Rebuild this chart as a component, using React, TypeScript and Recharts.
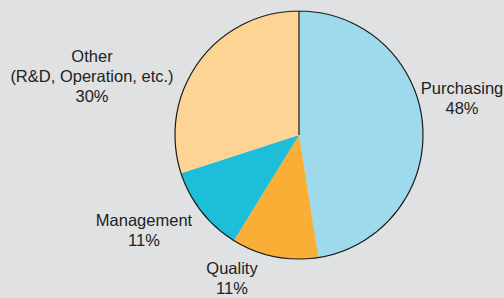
import React from "react";
import { PieChart, Pie, Cell } from "recharts";

const categories = ["Purchasing", "Quality", "Management", "Other"];
const labelLines = [["Purchasing"], ["Quality"], ["Management"], ["Other", "(R&D, Operation, etc.)"]];
const values = [47.5, 11.3, 11.2, 30.0];
const pctLabels = ["48%", "11%", "11%", "30%"];
const colors = ["#9fd9ec", "#f9ae35", "#1ebdd9", "#fdd493"];

const data = categories.map((name, i) => ({ name, value: values[i], pct: pctLabels[i], lines: labelLines[i] }));

// label placement offsets relative to pie centre (styling)
const labelOffsets = [
  { dx: 163, dy: -41 },
  { dx: -67, dy: 139 },
  { dx: -155, dy: 91 },
  { dx: -207, dy: -73 },
];

const renderLabel = (props: any) => {
  const { cx, cy, index } = props;
  const d = data[index];
  const off = labelOffsets[index];
  const x = cx + off.dx;
  const y0 = cy + off.dy;
  const lines = [...d.lines, d.pct];
  return (
    <text
      x={x}
      y={y0}
      textAnchor="middle"
      fill="#222"
      fontFamily="'Liberation Sans', Arial, sans-serif"
      fontSize={16.5}
    >
      {lines.map((l, i) => (
        <tspan key={i} x={x} y={y0 + i * 20}>
          {l}
        </tspan>
      ))}
    </text>
  );
};

export default function App() {
  return (
    <div style={{ position: "fixed", left: 0, top: 0, width: 504, height: 298, background: "#e0e1e3" }}>
      <PieChart width={504} height={298} margin={{ top: 0, right: 0, bottom: 0, left: 0 }}>
        <Pie
          data={data}
          dataKey="value"
          nameKey="name"
          cx={299}
          cy={135}
          outerRadius={124}
          startAngle={90}
          endAngle={-270}
          stroke="none"
          label={renderLabel}
          labelLine={false}
          isAnimationActive={false}
        >
          {data.map((d, i) => (
            <Cell key={d.name} fill={colors[i]} />
          ))}
        </Pie>
        <Pie
          data={[{ value: 1 }]}
          dataKey="value"
          cx={299}
          cy={135}
          outerRadius={124}
          startAngle={90}
          endAngle={-270}
          fill="none"
          stroke="#1a1a1a"
          strokeWidth={1.2}
          isAnimationActive={false}
        />
      </PieChart>
    </div>
  );
}
